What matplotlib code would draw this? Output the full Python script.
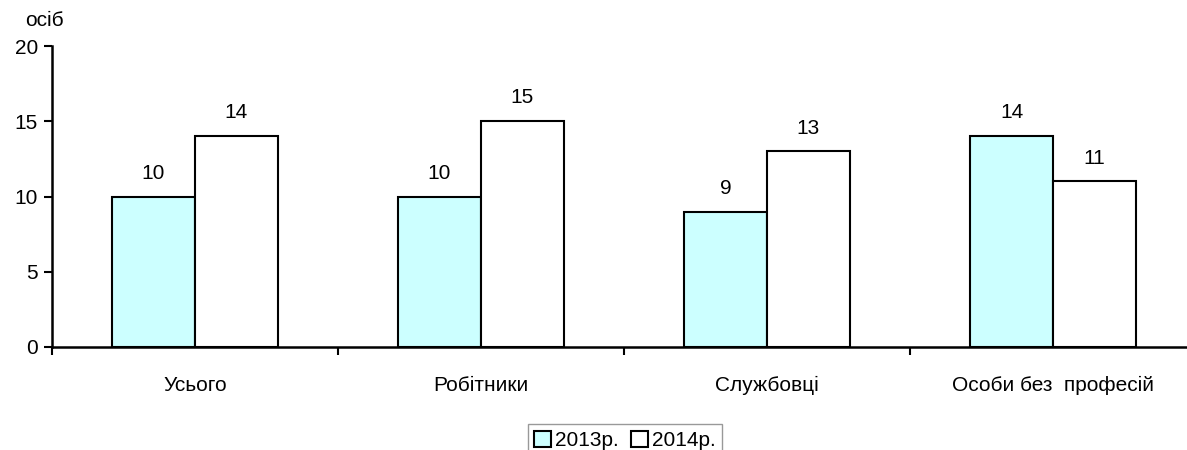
import numpy as np
import matplotlib.pyplot as plt
from matplotlib.patches import Patch

# --------------------------------
# DATA
# --------------------------------

categories = ["Усього", "Робітники", "Службовці", "Особи без  професій"]
values_2013 = [10, 10, 9, 14]
values_2014 = [14, 15, 13, 11]
series_labels = ["2013р.", "2014р."]

plt.rcParams["font.family"] = ["Liberation Sans", "DejaVu Sans"]
FS = 15

# --------------------------------
# FIGURE
# --------------------------------

fig = plt.figure(figsize=(11.87, 4.5), dpi=100)
ax = fig.add_axes([52 / 1187, 103 / 450, 1144 / 1187, 301 / 450])

x = np.arange(len(categories)) + 0.5
width = 0.29

bars1 = ax.bar(x - width / 2, values_2013, width, color="#CCFFFF",
               edgecolor="black", linewidth=1.5)
bars2 = ax.bar(x + width / 2, values_2014, width, color="white",
               edgecolor="black", linewidth=1.5)

for bars in (bars1, bars2):
    for b in bars:
        ax.text(b.get_x() + b.get_width() / 2, b.get_height() + 1.55,
                str(int(b.get_height())), ha="center", va="center",
                fontsize=FS)

ax.set_xlim(0, len(categories))
ax.set_ylim(0, 20)
ax.set_yticks([0, 5, 10, 15, 20])

ax.set_xticks(x)
ax.set_xticklabels(categories, fontsize=FS)
ax.set_xticks(np.arange(len(categories) + 1), minor=True)
ax.tick_params(axis="x", which="major", length=0, pad=21)
ax.tick_params(axis="x", which="minor", length=6, width=1.5, direction="out")
ax.tick_params(axis="y", length=6, width=1.5, direction="out", labelsize=FS,
               pad=4)

for side in ("top", "right"):
    ax.spines[side].set_visible(False)
for side in ("left", "bottom"):
    ax.spines[side].set_linewidth(1.8)
ax.spines["bottom"].set_clip_on(False)

fig.text(25 / 1187, 1 - 21 / 450, "осіб", fontsize=FS, va="center")

handles = [Patch(facecolor="#CCFFFF", edgecolor="black", linewidth=1.5),
           Patch(facecolor="white", edgecolor="black", linewidth=1.5)]
leg = fig.legend(handles, series_labels, loc="upper center",
                 bbox_to_anchor=(625 / 1187, 1 - 414 / 450), ncol=2,
                 fontsize=FS, fancybox=False, handlelength=0.8,
                 handleheight=0.8, handletextpad=0.2, columnspacing=0.6,
                 borderpad=0.3)
leg.get_frame().set_edgecolor("#808080")
leg.get_frame().set_linewidth(1.0)

fig.savefig("out.png", dpi=100)
